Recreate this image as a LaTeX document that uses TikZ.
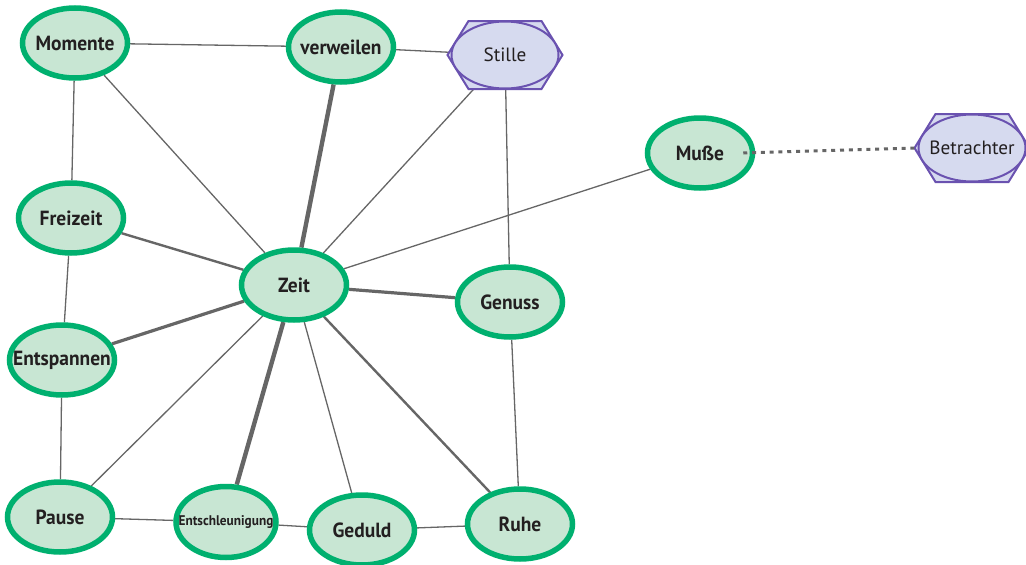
\documentclass[tikz,border=0pt]{standalone}
\usepackage{fontspec}
\setmainfont{PT Sans}
\newfontfamily\labelfont[FakeStretch=0.95]{PT Sans}
\usetikzlibrary{shapes.geometric,calc}

\definecolor{ringgreen}{RGB}{0,176,111}
\definecolor{leaffill}{RGB}{200,230,211}
\definecolor{hexpurple}{RGB}{106,82,176}
\definecolor{hexfill}{RGB}{214,218,239}
\definecolor{linkgray}{RGB}{102,102,102}
\definecolor{inkdark}{RGB}{35,31,32}

\pgfdeclarelayer{edgelayer}
\pgfdeclarelayer{hexlayer}
\pgfsetlayers{edgelayer,hexlayer,main}

% labels are set in a zero-width box so every ellipse keeps its fixed size
\newcommand{\lbl}[1]{\makebox[0pt]{#1}}

\tikzset{
  topic/.style={ellipse, draw=ringgreen, line width=5.5pt, fill=leaffill,
    minimum width=105pt, minimum height=70pt, inner sep=0pt, text=inkdark,
    font=\labelfont\bfseries\fontsize{20.5}{20.5}\selectfont},
  smalltopic/.style={topic, minimum width=100pt, minimum height=71pt,
    font=\labelfont\bfseries\fontsize{14}{14}\selectfont},
  hexnode/.style={ellipse, draw=hexpurple, line width=2pt, fill=hexfill,
    minimum width=107pt, minimum height=67pt, inner sep=0pt, text=inkdark,
    font=\fontsize{19.2}{19.2}\selectfont},
  hexframe/.style={draw=hexpurple, line width=2pt, fill=hexfill, line join=miter},
  link/.style={draw=linkgray, line width=1.3pt},
  linkmid/.style={draw=linkgray, line width=2.4pt},
  linkbold/.style={draw=linkgray, line width=3.2pt},
  linkheavy/.style={draw=linkgray, line width=4.4pt},
  dotlink/.style={draw=linkgray, line width=3pt, dash pattern=on 4pt off 4.8pt}
}

% hexagon with flat top and bottom around a named node
\newcommand{\hexframearound}[1]{%
  \begin{pgfonlayer}{hexlayer}
    \path[hexframe] ($(#1.center)+(-57.5,0)$) -- ++(21,-34) -- ++(73,0)
      -- ++(21,34) -- ++(-21,34) -- ++(-73,0) -- cycle;
  \end{pgfonlayer}}

\begin{document}
\begin{tikzpicture}[x=1pt,y=-1pt]
  \useasboundingbox (0,0) rectangle (1026,565);

  % topic nodes
  \node[topic] (momente)    at (75,43)   {\lbl{Momente}};
  \node[topic] (verweilen)  at (341,47)  {\lbl{verweilen}};
  \node[hexnode] (stille)   at (505,55)  {\lbl{Stille}};
  \node[topic] (musse)      at (700,153) {\lbl{Muße}};
  \node[hexnode] (betr)     at (972,148) {\lbl{Betrachter}};
  \node[topic] (freizeit)   at (71,218)  {\lbl{Freizeit}};
  \node[topic] (zeit)       at (294,285) {\lbl{Zeit}};
  \node[topic] (genuss)     at (510,302) {\lbl{Genuss}};
  \node[topic] (entsp)      at (62,360)  {\lbl{Entspannen}};
  \node[topic] (pause)      at (60,517)  {\lbl{Pause}};
  \node[smalltopic] (entschl) at (226,522) {\lbl{Entschleunigung}};
  \node[topic] (geduld)     at (362,530) {\lbl{Geduld}};
  \node[topic] (ruhe)       at (520,524) {\lbl{Ruhe}};

  \hexframearound{stille}
  \hexframearound{betr}

  % connections
  \begin{pgfonlayer}{edgelayer}
    \draw[link] (momente) -- (verweilen);
    \draw[link] (momente) -- (freizeit);
    \draw[link] (momente) -- (zeit);
    \draw[link] (verweilen) -- (stille.center);
    \draw[linkheavy] (verweilen) -- (zeit);
    \draw[link] (stille.center) -- (zeit);
    \draw[link] (stille.center) -- (genuss);
    \draw[link] (musse) -- (zeit);
    \draw[linkmid] (freizeit) -- (zeit);
    \draw[link] (freizeit) -- (entsp);
    \draw[linkbold] (zeit) -- (genuss);
    \draw[linkbold] (zeit) -- (entsp);
    \draw[link] (zeit) -- (pause);
    \draw[linkheavy] (zeit) -- (entschl);
    \draw[link] (zeit) -- (geduld);
    \draw[linkmid] (zeit) -- (ruhe);
    \draw[link] (entsp) -- (pause);
    \draw[link] (genuss) -- (ruhe);
    \draw[link] (pause) -- (entschl);
    \draw[link] (entschl) -- (geduld);
    \draw[link] (geduld) -- (ruhe);
  \end{pgfonlayer}

  \draw[dotlink] ([xshift=-12pt]musse.east) -- (betr.west);
\end{tikzpicture}
\end{document}
